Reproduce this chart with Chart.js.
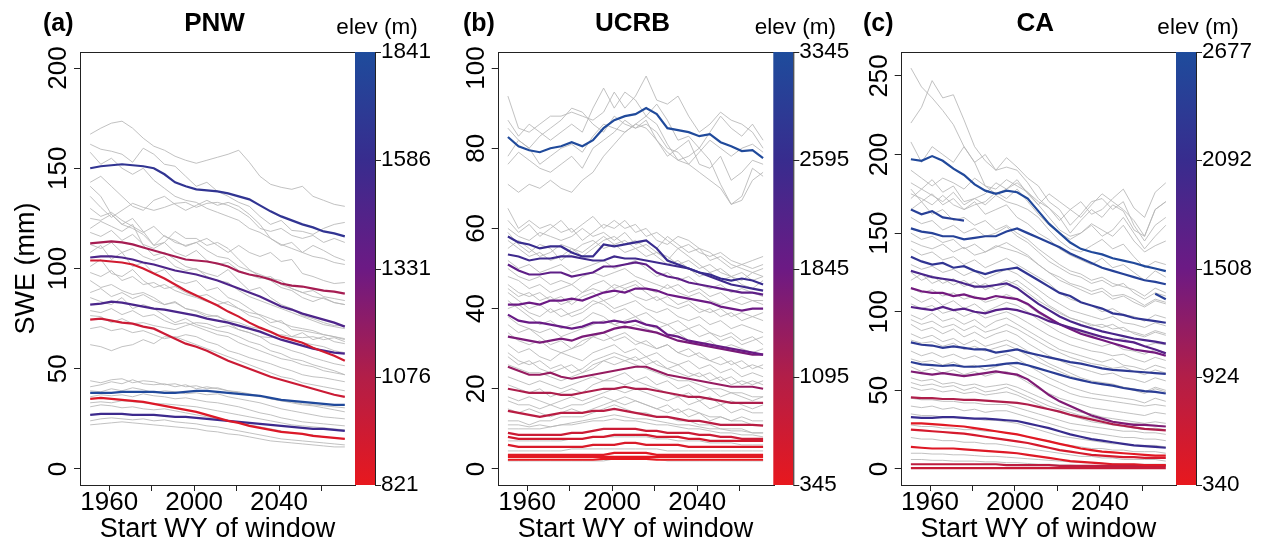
<!DOCTYPE html>
<html>
<head>
<meta charset="utf-8">
<script src="https://cdn.jsdelivr.net/npm/chart.js@4.4.0/dist/chart.umd.min.js"></script>
<style>
  html, body { margin: 0; padding: 0; background: #fff; }
  #wrap { position: relative; width: 1272px; height: 550px; overflow: hidden; background: #fff; }
  canvas { position: absolute; top: 0; }
</style>
</head>
<body>
<div id="wrap">
  <canvas id="pnw" width="440" height="550" style="left:0px"></canvas>
  <canvas id="ucrb" width="420" height="550" style="left:430px"></canvas>
  <canvas id="ca" width="422" height="550" style="left:850px"></canvas>
</div>
<script>
// start water year of each window
const years = [1951,1956,1961,1966,1971,1976,1981,1986,1991,1996,2001,2006,2011,2016,2021,2026,2031,2036,2041,2046,2051,2056,2061,2066,2071];
const xTicks = [1960,1980,2000,2020,2040,2060];

// ---- (a) PNW ----
const pnwYTicks = [0,50,100,150,200];
const pnwBar = [821,1076,1331,1586,1841];
const pnwElev = [1650,1120,1480,930,1500,960,1820,880,1560];
const pnwColored = [
  [150,151,151.5,152,151.5,151,150,147,143,141,139.5,139,138.5,137.5,136,134.5,131.5,128.5,126,124,122,120.5,118.5,117.5,116],
  [112.5,113,113.5,113,112,110.5,109,107.5,106,104.5,104,103.5,102.5,101,98.5,97,96,94.5,92.5,91.5,91,90,89,88.5,87.5],
  [105.5,106,106,105.5,104.5,103,102,100.5,99,98,97,95.5,94,92,90,88,86,83.5,81,79.5,77.5,76,74.5,73,71],
  [104,104,103.5,103,102,100,97.5,95,92,89,86.5,84,81.5,78.5,76,73,70.5,68.5,66,64.5,63,60.5,58.5,56.5,54],
  [82,82.5,83.5,83,82,81,80,79.5,78.5,77.5,76.5,75,74,73,71.5,70,68.5,66.5,64.5,63,61.5,60,59,58,57.5],
  [74.5,75,74,73,72.5,71,70,67.5,65,62.5,61,59,56.5,54,52,50,48,46,44.5,43,41.5,40,38.5,37,36],
  [38,38,38,38.5,38.5,38.5,38.5,38,38,38.5,39,39,38.5,38,37.5,37,36.5,35.5,34.5,34,33.5,33,32.5,32,32],
  [35,35.5,35,34.5,34,33.5,32.5,31.5,30.5,29.5,28.5,27,25.5,24,23,21.5,20.5,19.5,18.5,18,17.5,16.5,16,15.5,15],
  [27,27.5,27.5,27.5,27,27,27,26.5,26,26,25.5,25,24.5,24,23.5,23,22.5,22,21.5,21,20.5,20,20,19.5,19]
];
const pnwGrey = [
  [167,170,172.5,173.5,170,165,161,159,156,154,152.5,154,155.5,157,159,153,146,142,140.5,139.5,141,136,134,132,131],
  [162,159.5,158.5,157,153,160,157,152,151,146,141,143,138.5,136,133,131,126,122,124,119,118.5,117,120,122,123],
  [143,146,141,136,131,129,134,136,132,129,131.5,134,131.5,133,131,127,122,115,111.5,113,108,111.5,109,106,104],
  [141,136,127,122,120,117,111.5,113,118.5,115,115,111.5,113,110,104.5,99.5,96,94,90.5,89,85.5,83.5,85.5,83,82],
  [125,124,127,122,125,118.5,111.5,116.5,113,111.5,113,115,111.5,108,111.5,108,106,108,103.5,104.5,97.5,96,94,92.5,93],
  [120,123.5,121,118.5,122,111.5,106.5,108,104.5,101,99.5,97.5,96,99.5,94,89,90.5,85.5,82,80,76.5,75,73,71.5,71.5],
  [101,104.5,97.5,96,99.5,94,90.5,92,89,87,85.5,83.5,82,83.5,80,76.5,75,71.5,69.5,66,68,64.5,66,63.5,62.5],
  [94,90.5,92,89,87,88,85.5,82,83.5,80,78.5,76,76.5,73,69.5,68,66,62.5,61,59,57.5,55.5,54,52.5,51.5],
  [85.5,83.5,82,85.5,80,82,80,76.5,73,75,72,70.5,69,68,66,63.5,62,59,57.5,55,54,52,50.5,49,47],
  [76.5,76,73,75,72.5,73,71.5,70.5,69.5,71.5,73,72.5,70.5,71.5,69.5,68,66,65.5,67,66,65.5,66,64.5,65.5,63.5],
  [62,61,59,61,62,64.5,62.5,66,65.5,67,66,63.5,62,59,57.5,55.5,54,52.5,50.5,49,47,46,45.5,44.5,43.5],
  [108,111.5,104.5,108,101,103,97.5,99.5,94,92.5,94,89,90.5,85.5,83.5,80,76.5,73,74,69.5,69,68,67,66,64.5],
  [41,42,43.5,42.5,44.5,42.5,42,42.5,41,42,40,41,40,39,38.5,37.5,36.5,35,34,33,32,31.5,30.5,29.5,28.5],
  [39,38.5,40,39,40.5,39.5,38,39,38.5,37.5,38,37,37.5,36,35,34,33,31.5,30,29,28,27,26,25.5,25],
  [36,37,36.5,37,36,37.5,36.5,36,35,35.5,34.5,33.5,33,32,31,29.5,28,27,25.5,24.5,23.5,23,22.5,22,21.5],
  [31,32,31.5,30.5,31,30,29.5,30,29,28,27,26,25,24,23,22,21,20,19,18,17.5,17,16,15.5,15],
  [24,25,25.5,25,24.5,25,24,24.5,23.5,23,22.5,21.5,21,20,19,18,17,16,15,14.5,14,13.5,13,12.5,12],
  [22,22.5,23,23.5,23,22.5,22,21.5,21,20.5,20,19,18.5,17.5,17,16,15,14,13.5,13,12.5,12,11.5,11,11],
  [136,130.5,125.5,129,132.5,130.5,129,130.5,132.5,133,130.5,132.5,133,131.5,129,125.5,120,118.5,120,116.5,115,116.5,113,115,113],
  [118,116,119,114,117,112,110,113,108,106,109,104,102,103,99,97,95,96,92,90,88,89,86,85,84],
  [98,96,99,94,96,92,93,90,91,88,86,87,84,82,80,78,77,75,73,71,70,69,67,66,65],
  [88,90,86,88,85,87,84,82,83,80,79,77,76,74,73,71,70,68,66,65,63,62,61,59,58],
  [44,43,44.5,45,43,44,43.5,42,42.5,41,41.5,40,40.5,39,38,37,36,35,34,33.5,32.5,32,31.5,31,30.5],
  [158,152,155,150,147,150,144,140,136,134,133,130,128,126,124,120,118,115,112,110,108,106,105,103,102],
  [130,126,128,124,121,118,121,116,114,111,113,109,106,105,101,99,97,95,94,90,88,86,85,83,82],
  [112,110,113,108,110,106,104,106,101,99,100,96,94,93,89,86,84,82,80,78,76,74,72,71,70],
  [79,78,80,77,79,76,77,74,72,73,71,69,67,66,63,61,59,57,55,54,52,51,49,48,47],
  [70,71,69,70,68,69,67,65,66,64,62,60,58,56,54,52,50,48,46,45,43,42,41,40,39],
  [33,33.5,33,34,33.5,33,32.5,32.5,32,31.5,31,30,29,28,27,26,25,24,23,22,21.5,21,20.5,20,19.5]
];

// ---- (b) UCRB ----
const ucrbYTicks = [0,20,40,60,80,100];
const ucrbBar = [345,1095,1845,2595,3345];
const ucrbElev = [3300,2600,2500,2050,1850,1900,1700,1400,1150,1000,750,650,550,450,400,360];
const ucrbColored = [
  [82.8,80.5,79.5,79,80,80.5,81.5,80.5,82,85,87,88,88.5,90,88.5,85,84.5,84,83,83.5,81.5,80.5,79.3,79.5,77.5],
  [58,56.5,56,55,55.5,55.5,54,53,53,56,55.5,56,56.5,57,55,52,51,50,49,48.5,47.5,47,47.5,47,46],
  [53.5,53,52,52.5,52.5,53,53,52.5,52,52,53,52.5,52.5,52,51.5,51,50.5,50,49,48,47,46,45.5,45,44.5],
  [51,49.5,48.5,48.5,49,49,48,48.5,49,50.5,50.5,51,51.5,51,49,48,47.5,46.5,46,45.5,45,44.5,44,44,43.5],
  [41,41,41.5,41,42,42,42.5,42,43,44,44.5,44,45,45,44.5,43.5,43,42.5,42,41.5,40.5,40,39.5,40,40],
  [38.5,37,36.5,36.5,36,35.5,35,35.5,36.5,36.5,37,36.5,37,36,35.5,33.5,33,32,31.5,31,30.5,30,29.5,29,28.5],
  [33,32.5,32,31.5,32,32.5,32,33,33.5,34,35,35.5,35,34.5,34,33,32,31.5,31,30.5,30,29.5,29,28.5,28.5],
  [25.5,24.5,23.5,23.5,24,23,22.5,23,23.5,24,24.5,25,25.5,25.5,24.5,23.5,23,22.5,22,21.5,21,20.5,20.5,20.5,20],
  [20,19.5,19,19,19,18.5,18.5,19,19.5,20,20,20.5,20,20,19.5,19,18.5,18,18,17.5,17,16.5,16.5,16.5,16.5],
  [14.5,14,13.5,13,13.5,14,14,14,14.5,14.5,15,14.5,14,13.5,13,13,12.5,12,12,11.5,11,11,11,11,10.8],
  [9,8.5,8.5,8.5,8.5,8.5,9,9,9.5,10,10,10,10,9.5,9.5,9,9,9,8.5,8.5,8,8,7.5,7.5,7.5],
  [8,7.5,7.5,7.5,7.5,7.5,7.5,7.5,8,8,8.5,8.5,8.5,8.5,8,8,8,7.5,7.5,7,7,7,7,7,7],
  [6,5.5,5.5,5.5,5.5,5.5,5.5,5.5,6,6,6,6.5,6.5,6,6,6,6,5.5,5.5,5.5,5.5,5.5,5.5,5.5,5.5],
  [3.5,3.5,3.5,3.5,3.5,3.5,3.5,3.5,3.5,3.5,4,4,4,4,3.5,3.5,3.5,3.5,3.5,3.5,3.5,3.5,3.5,3.5,3.5],
  [3,3,3,3,3,3,3,3,3,3,3,3,3,3,3,3,3,3,3,3,3,3,3,3,3],
  [2.3,2.3,2.3,2.3,2.3,2.3,2.3,2.3,2.3,2.5,2.5,2.5,2.5,2.5,2.3,2.3,2.3,2.3,2.3,2.3,2.3,2.3,2.3,2.3,2.3]
];
const ucrbGrey = [
  [93,85,84,86,88,88,89,88,87,89,94,90,93,98,92,91,93,88,84,86,89,87,86,84,80],
  [87,83,86,84,82,84,86,84,90,95,90,94,92,88,91,87,82,83,80,84,88,85,83,86,82],
  [85,82,80,83,85,87,90,89,86,84,88,86,85,87,82,78,80,82,76,75,78,72,74,77,76],
  [78,82,80,76,78,80,81,79,83,86,85,84,86,88,86,81,77,78,80,77,71,66,68,75,73],
  [76,79,77,75,74,76,78,75,80,82,84,87,85,86,84,80,79,76,79,82,80,78,80,81,79],
  [71,69,71,70,72,70,69,72,74,78,81,84,86,85,82,79,77,76,74,72,70,66,67,72,74],
  [65,60,62,60,61,59,60,57,59,61,60,62,59,60,57,56,58,57,55,54,52,50,51,52,53],
  [60,58,57,59,58,57,58,60,58,59,57,59,56,57,55,58,56,54,55,52,53,51,50,49,50],
  [59,56,54,56,55,52,54,56,57,55,56,54,55,53,54,52,55,53,51,49,50,48,47,49,48],
  [52,50,51,49,50,51,49,50,51,52,50,51,52,50,48,49,47,48,46,45,46,44,45,44,43],
  [48,47,45,46,44,45,46,44,46,47,45,46,47,45,44,46,44,43,44,42,41,42,41,42,41],
  [46,44,43,44,42,43,41,43,44,42,43,45,43,42,43,41,40,41,39,40,38,39,37,38,37],
  [44,42,40,41,39,40,38,39,41,42,40,41,42,40,39,40,38,37,38,36,37,35,36,35,34],
  [42,40,38,36,37,35,36,37,39,38,36,37,38,36,35,36,34,35,33,34,32,33,31,32,33],
  [36,34,35,33,31,32,30,31,33,34,32,33,31,32,30,31,29,30,28,27,28,26,27,25,26],
  [31,29,30,28,27,29,28,27,29,30,31,29,30,28,29,27,26,27,25,26,24,25,23,24,23],
  [28,26,27,25,24,25,26,24,25,27,28,27,28,26,27,25,24,23,24,22,23,21,22,21,22],
  [23,22,21,22,21,20,21,22,23,22,23,24,22,23,21,22,20,21,19,20,18,19,18,17,18],
  [18,17,18,17,16,17,18,17,18,19,20,19,20,19,18,17,18,16,17,15,16,14,15,14,14],
  [17,16,16,15,16,15,16,16,17,18,17,18,17,16,15,16,14,15,14,13,13,12,13,12,12],
  [12,12,11,12,12,13,13,13,14,15,16,15,14,14,13,13,12,12,11,11,10,10,10,9,9],
  [10,10,10,10,10.5,11,11,11.5,12,12,12.5,12,12,11.5,11,11,10.5,10,10,9.5,9,9,8.5,8.5,8],
  [7,7,7,7,7,7,7.5,7.5,8,8,8,8,8,8,7.5,7.5,7,7,7,6.5,6.5,6.5,6,6,6],
  [4.5,4.5,4.5,4.5,4.5,4.5,5,5,5,5,5,5,5,5,5,4.5,4.5,4.5,4.5,4.5,4.5,4.5,4.5,4.5,4.5],
  [2,2,2,2,2,2,2,2,2,2,2.5,2.5,2.5,2.5,2.5,2,2,2,2,2,2,2,2,2,2],
  [55,57,55,53,54,56,55,53,55,57,58,56,57,55,53,51,52,50,48,49,47,48,46,45,47],
  [40,41,39,38,40,38,39,40,42,41,39,40,38,39,37,36,37,35,36,34,33,34,32,33,31],
  [26,25,24,24,23,22,23,24,26,27,26,27,26,25,24,23,22,22,21,20,20,19,19,18,18],
  [62,59,61,58,60,62,59,61,63,60,62,60,61,58,59,57,55,56,54,53,54,52,51,50,51],
  [57,55,53,54,52,53,55,54,56,58,56,57,55,56,54,53,51,52,50,51,49,48,49,47,48],
  [50,48,47,48,46,47,46,48,49,48,49,50,48,47,46,45,46,44,45,43,44,42,43,42,42],
  [45,43,44,42,43,41,42,44,45,44,46,45,46,44,42,43,41,42,40,39,40,38,39,38,39],
  [38,36,35,34,35,33,34,35,36,37,36,35,36,35,34,33,34,32,31,32,30,31,30,29,30],
  [34,32,31,32,30,29,30,32,33,32,33,34,32,31,30,31,29,28,29,27,26,27,25,26,25],
  [29,27,26,27,25,26,24,25,27,28,29,28,27,28,26,25,26,24,23,24,22,23,21,22,21],
  [21,20,19,20,18,19,20,19,21,22,22,21,22,21,20,19,18,19,17,18,16,17,16,15,16],
  [15,14,15,14,13,14,15,14,15,16,17,16,17,16,15,14,15,13,14,12,13,12,12,11,11],
  [11,11,10.5,11,10.5,11,11.5,12,12.5,13,13.5,13,12.5,12.5,12,11.5,11,11,10.5,10,10,9.5,9.5,9,9]
];

// ---- (c) CA ----
const caYTicks = [0,50,100,150,200,250];
const caBar = [340,924,1508,2092,2677];
const caElev = [2620,2450,2500,2250,1900,1750,1450,2350,2400,1350,950,2100,420,550,450,800,700];
const caColored = [
  [197,196,199,196,191,187,181,177,175,177,176,172,164,156,150,144,140,138,136.5,134,132.5,131,129,127.5,125.8],
  [165,162,164,160,159,158,null,null,null,null,null,null,null,null,null,null,null,null,null,null,null,null,null,111.5,108],
  [153,151,150,148,148,146,147,148,148,151,153,150,147,144,141,137,134,131,128,126,124,122,120,119,117.5],
  [135,132,130,131,128,129,126,124,126,127,128,124,120,116,112,110,106,104,102,99,98,96,95,94,93],
  [126,124,122,121,120,118,116,116,117,118,115,110,105,101,97,94,91.5,89.5,87.5,86,84.5,83,82,81,79.7],
  [103,102,101,103,101,102,100,99,101,102,101,99,97,94,92,90,88,86,84,82.5,81.5,80.5,78,76,73.5],
  [115,113,112,112,110,111,109,108,110,109,108,105,100,96,92,89,86,84,82,80,78,76,75,74,72],
  [80.5,79,78.5,77,78,77,76,76,74,75,76,74,72.5,71,69.5,68,67,65.5,64,63,62.5,62,61.5,61,60.5],
  [68,66.5,66,65.5,66,65,65,65.5,66,67,67.5,66,64,62,60,58,56.5,55,54,53,51.5,50.5,49.5,49,48],
  [62,61,60,61,60,59,60,61,62,61,60,57,52,47,43,40,37,34,32,30,29,28,28,27.5,27],
  [45.5,45,45,44.5,44.5,44,44,43.5,43,42.5,42,41,39.5,38,36.5,34.5,33,31.5,30,28.5,27.5,26.5,25.5,25,24.5],
  [33,32.5,32.5,33,33,32.5,32,32,31.5,31,30.5,29,27.5,26,24,22,20.5,19,18,17,16,15,14.5,14,13.5],
  [29,29,28.5,28,27.5,27,26,25,24,23,22,20.5,19,17.5,16,14.5,13,12,11,10.5,10,9.5,9,8.5,8.5],
  [25,24.5,24,23.5,23,22.5,21.5,20.5,19.5,18.5,17.5,16.5,15,13.5,12,11,10,9,8.5,8,7.5,7.5,7,7,7],
  [14,13.5,13,13,13,12.5,12,11.5,11,10.5,10,9,8,7,6,5,4.5,4,3.5,3,3,3,2.5,2.5,2.5],
  [3,3,3,3,3,3,3,3,3,2.5,2.5,2.5,2.5,2.5,2,2,2,2,2,2,2,2,2,2,2],
  [0.5,0.5,0.5,0.5,0.5,0.5,0.5,0.5,0.5,0.5,0.5,0.5,0.5,0.5,0.5,0.5,0.5,0.5,0.5,0.5,0.5,0.5,0.5,0.5,0.5]
];
const caGrey = [
  [255,243,236,228,219,205,195,180,178,184,180,176,170,166,160,150,158,165,160,168,164,152,148,165,170],
  [220,230,247,236,238,222,205,196,190,192,190,182,172,166,158,165,170,162,165,172,178,166,160,176,182],
  [208,195,205,200,195,205,195,200,190,198,192,185,180,170,165,155,162,170,172,165,170,155,145,155,160],
  [190,185,180,185,182,178,185,180,175,178,182,176,168,160,152,148,150,155,148,152,160,150,140,148,155],
  [182,178,184,176,180,170,172,168,174,170,168,165,160,152,145,140,138,142,146,140,143,135,128,132,130],
  [175,172,168,174,168,165,170,162,165,168,160,156,150,146,140,136,133,130,134,128,130,125,120,126,122],
  [165,170,162,165,158,160,155,158,152,155,150,146,140,135,130,126,124,120,122,118,116,114,110,115,112],
  [145,142,140,143,138,141,136,138,142,140,138,135,130,125,120,117,114,111,113,108,110,106,103,107,105],
  [140,136,138,133,135,130,133,128,131,134,130,126,122,118,112,108,106,104,100,102,98,97,94,98,96],
  [120,124,118,121,117,120,115,118,114,117,120,115,110,104,100,96,94,92,90,92,88,87,85,88,86],
  [110,106,109,104,107,102,105,100,103,106,104,100,95,91,87,84,82,80,78,80,76,75,73,76,74],
  [98,95,99,94,96,92,95,90,94,96,92,88,84,80,76,74,72,70,68,70,66,65,63,66,64],
  [92,88,90,86,89,84,87,83,86,88,85,80,76,72,69,66,64,62,60,61,58,57,55,58,56],
  [86,83,85,81,83,79,82,78,80,82,79,75,71,67,64,61,58,56,55,54,52,51,49,52,50],
  [75,72,74,71,73,70,72,69,71,73,70,66,62,58,55,52,50,48,47,46,45,44,42,45,43],
  [65,62,64,61,63,60,62,59,61,62,59,55,51,48,45,43,41,39,38,37,36,35,34,36,35],
  [58,56,57,54,55,53,54,52,53,54,52,49,46,43,40,38,36,35,33,32,31,30,29,30,29],
  [52,50,51,49,50,48,49,47,48,49,47,44,41,38,36,34,32,30,29,28,27,26,25,26,25],
  [40,39,40,38,39,37,38,36,37,37,35,33,31,29,27,25,24,23,22,21,20,20,19,19,18],
  [35,34,34,33,33,32,32,31,31,30,29,27,25,23,21,20,19,18,17,16,16,15,15,15,14],
  [20,19,19,18,18,17,17,16,16,15,14,13,12,11,10,9,8,8,7,7,6,6,6,6,5],
  [10,10,9.5,9.5,9,9,8.5,8,8,7.5,7,6.5,6,5.5,5,4.5,4,4,3.5,3.5,3,3,3,3,3],
  [6,6,5.5,5.5,5,5,5,4.5,4.5,4,4,3.5,3,3,2.5,2.5,2,2,2,1.5,1.5,1.5,1.5,1.5,1.5],
  [130,127,129,125,127,123,126,121,124,127,124,119,114,109,105,101,99,97,95,97,93,92,90,93,91],
  [172,178,174,170,176,168,172,175,182,178,184,175,168,175,170,165,160,168,175,170,165,158,148,165,170],
  [178,170,175,168,172,165,168,170,176,172,178,170,162,155,150,146,150,156,152,148,155,145,138,142,145],
  [160,156,158,152,155,150,153,148,150,154,148,144,138,132,128,124,122,118,120,116,118,112,108,112,110],
  [150,146,148,144,146,140,143,138,141,144,140,136,130,125,122,118,116,113,115,110,111,108,104,108,106],
  [125,120,123,118,121,116,119,114,117,120,117,112,107,103,99,96,94,91,92,89,90,86,84,87,85],
  [115,112,114,110,112,108,110,106,108,111,108,104,99,95,92,89,87,85,84,82,83,80,78,80,79],
  [105,102,104,99,101,97,100,96,98,100,97,93,89,85,82,79,77,75,74,72,73,70,68,71,69],
  [95,92,94,90,92,88,91,87,89,92,89,85,81,77,74,71,69,67,66,64,65,62,60,63,61],
  [82,80,81,78,80,76,78,75,77,79,76,72,68,65,62,59,57,55,54,53,52,50,48,51,49],
  [70,68,69,66,68,65,66,63,65,67,64,60,57,54,51,48,46,45,44,43,42,41,40,41,40],
  [55,53,54,52,53,50,52,49,50,52,49,46,43,40,38,36,34,33,31,30,29,29,28,28,27],
  [45,44,44,43,43,42,42,41,41,41,39,37,35,33,31,29,28,27,26,25,24,24,23,23,22],
  [28,27,27,26,26,25,25,24,24,23,22,20,19,18,16,15,14,13,13,12,12,11,11,11,10]
];

// red -> purple -> blue ramp used for the colour bars and the coloured lines
const rampStops = [
  [0, [232, 24, 30]],
  [0.25, [178, 30, 72]],
  [0.5, [108, 26, 132]],
  [0.75, [56, 44, 142]],
  [1, [30, 76, 156]]
];

function rampColor(t) {
  t = Math.max(0, Math.min(1, t));
  for (let i = 1; i < rampStops.length; i++) {
    if (t <= rampStops[i][0]) {
      const a = rampStops[i - 1], b = rampStops[i];
      const f = (t - a[0]) / (b[0] - a[0]);
      const c = a[1].map((v, k) => Math.round(v + (b[1][k] - v) * f));
      return 'rgb(' + c.join(',') + ')';
    }
  }
  return 'rgb(' + rampStops[rampStops.length - 1][1].join(',') + ')';
}

const FONT = '"Liberation Sans", Arial, sans-serif';
Chart.defaults.font.family = FONT;
Chart.defaults.color = '#000';

// box, rotated y labels, colour bar and panel headings
const framePlugin = {
  id: 'frame',
  afterDraw(chart, args, opts) {
    const ctx = chart.ctx;
    const a = chart.chartArea;
    const y = chart.scales.y;
    ctx.save();

    ctx.strokeStyle = '#222';
    ctx.lineWidth = 1;
    ctx.strokeRect(Math.round(a.left) + 0.5, Math.round(a.top) + 0.5, Math.round(a.right - a.left), Math.round(a.bottom - a.top));

    ctx.fillStyle = '#000';
    ctx.font = '26px ' + FONT;
    ctx.textAlign = 'center';
    ctx.textBaseline = 'middle';
    y.ticks.forEach(function(t) {
      const py = y.getPixelForValue(t.value);
      ctx.save();
      ctx.translate(a.left - 21, py);
      ctx.rotate(-Math.PI / 2);
      ctx.fillText(String(t.value), 0, 0);
      ctx.restore();
    });

    // colour bar
    const x0 = a.right, w = 20;
    const g = ctx.createLinearGradient(0, a.bottom, 0, a.top);
    rampStops.forEach(function(s) { g.addColorStop(s[0], 'rgb(' + s[1].join(',') + ')'); });
    ctx.fillStyle = g;
    ctx.fillRect(x0, a.top, w, a.bottom - a.top);
    ctx.strokeStyle = '#222';
    ctx.beginPath();
    ctx.moveTo(x0 + w + 0.5, a.top);
    ctx.lineTo(x0 + w + 0.5, a.bottom);
    const n = opts.bar.length;
    opts.bar.forEach(function(v, i) {
      const py = a.bottom - (a.bottom - a.top) * i / (n - 1);
      ctx.moveTo(x0 + w, Math.round(py) + 0.5);
      ctx.lineTo(x0 + w + 6, Math.round(py) + 0.5);
    });
    ctx.stroke();

    ctx.fillStyle = '#000';
    ctx.font = '22.5px ' + FONT;
    ctx.textAlign = 'left';
    opts.bar.forEach(function(v, i) {
      const py = a.bottom - (a.bottom - a.top) * i / (n - 1);
      ctx.fillText(String(v), x0 + w + 6, py);
    });
    ctx.textAlign = 'center';
    ctx.fillText('elev (m)', x0 + w / 2 + 12, 28);

    ctx.font = 'bold 26px ' + FONT;
    ctx.fillText(opts.name, (a.left + a.right) / 2 - 3, 24);
    ctx.textAlign = 'left';
    ctx.font = 'bold 25px ' + FONT;
    ctx.fillText(opts.tag, opts.tagX, 24);
    ctx.restore();
  }
};

function makePanel(id, p) {
  const datasets = [];
  p.colored.forEach(function(vals, i) {
    const t = (p.elev[i] - p.bar[0]) / (p.bar[p.bar.length - 1] - p.bar[0]);
    datasets.push({
      data: vals.map(function(v, k) { return { x: years[k], y: v }; }),
      borderColor: rampColor(t),
      borderWidth: 2.2
    });
  });
  p.grey.forEach(function(vals) {
    datasets.push({
      data: vals.map(function(v, k) { return { x: years[k], y: v }; }),
      borderColor: 'rgba(182,182,182,0.85)',
      borderWidth: 1
    });
  });

  new Chart(document.getElementById(id), {
    type: 'line',
    data: { datasets: datasets },
    options: {
      responsive: false,
      animation: false,
      spanGaps: false,
      layout: { padding: { left: 0, top: 52, right: p.padRight, bottom: 0 } },
      elements: { point: { radius: 0 }, line: { tension: 0 } },
      plugins: {
        legend: { display: false },
        tooltip: { enabled: false },
        frame: { bar: p.bar, name: p.name, tag: p.tag, tagX: p.tagX }
      },
      scales: {
        x: {
          type: 'linear',
          min: 1946.2,
          max: 2075.8,
          afterBuildTicks: function(s) { s.ticks = xTicks.map(function(v) { return { value: v }; }); },
          afterFit: function(s) { s.height = 65; },
          grid: { drawOnChartArea: false, drawTicks: true, tickLength: 6, color: '#222' },
          border: { display: false },
          ticks: {
            autoSkip: false,
            maxRotation: 0,
            color: '#000',
            padding: -4,
            font: { size: 26 },
            callback: function(v) { return v % 40 === 0 ? String(v) : ''; }
          },
          title: { display: true, text: 'Start WY of window', color: '#000', font: { size: 27 }, padding: { top: 0, bottom: 4 } }
        },
        y: {
          type: 'linear',
          min: p.yMin,
          max: p.yMax,
          afterBuildTicks: function(s) { s.ticks = p.yTicks.map(function(v) { return { value: v }; }); },
          afterFit: function(s) { s.width = p.axisLeft; },
          grid: { drawOnChartArea: false, drawTicks: true, tickLength: 6, color: '#222' },
          border: { display: false },
          ticks: { display: false },
          title: { display: p.yTitle, text: 'SWE (mm)', color: '#000', font: { size: 27 }, padding: { top: 10, bottom: 0 } }
        }
      }
    },
    plugins: [framePlugin]
  });
}

makePanel('pnw', { colored: pnwColored, grey: pnwGrey, elev: pnwElev, bar: pnwBar, yTicks: pnwYTicks,
  yMin: -8, yMax: 208, axisLeft: 80, padRight: 85, name: 'PNW', tag: '(a)', tagX: 43, yTitle: true });
makePanel('ucrb', { colored: ucrbColored, grey: ucrbGrey, elev: ucrbElev, bar: ucrbBar, yTicks: ucrbYTicks,
  yMin: -4, yMax: 104, axisLeft: 67.7, padRight: 76.7, name: 'UCRB', tag: '(b)', tagX: 33, yTitle: false });
makePanel('ca', { colored: caColored, grey: caGrey, elev: caElev, bar: caBar, yTicks: caYTicks,
  yMin: -10.2, yMax: 265.2, axisLeft: 50.7, padRight: 96, name: 'CA', tag: '(c)', tagX: 13, yTitle: false });
</script>
</body>
</html>
